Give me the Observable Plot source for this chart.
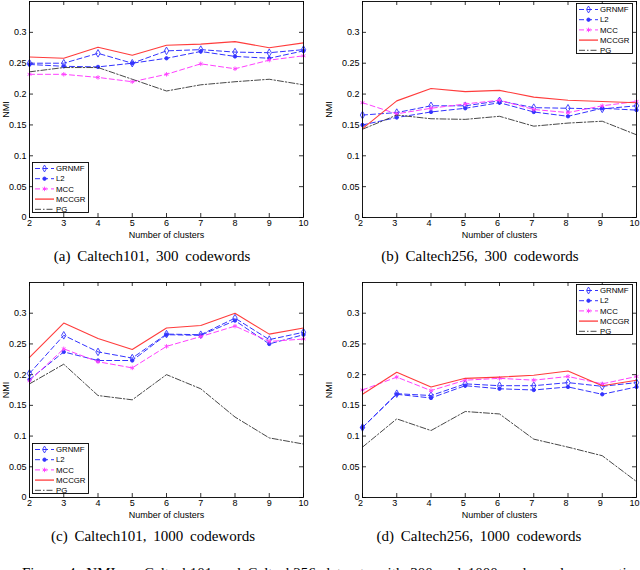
<!DOCTYPE html>
<html><head><meta charset="utf-8">
<script src="https://cdn.jsdelivr.net/npm/d3@7"></script>
<script src="https://cdn.jsdelivr.net/npm/@observablehq/plot@0.6"></script>
<style>
body{margin:0;background:#fff;}
#fig{position:relative;width:640px;height:570px;overflow:hidden;background:#fff;}
.panel{position:absolute;}
.cap{position:absolute;font-family:"Liberation Serif","Times New Roman",serif;font-size:15px;line-height:16px;word-spacing:3px;white-space:nowrap;transform:translateX(-50%);color:#000;}
.figcap{position:absolute;font-family:"Liberation Serif","Times New Roman",serif;font-size:15px;line-height:16px;word-spacing:3px;white-space:nowrap;color:#000;}
</style></head><body><div id="fig"></div>
<script>
const clusters = [2, 3, 4, 5, 6, 7, 8, 9, 10];
const methods = ["GRNMF", "L2", "MCC", "MCCGR", "PG"];
const xTicks = [2, 3, 4, 5, 6, 7, 8, 9, 10];
const yTicks = [0, 0.05, 0.1, 0.15, 0.2, 0.25, 0.3];
const yTickLabels = ["0", "0.05", "0.1", "0.15", "0.2", "0.25", "0.3"];

// (a) Caltech101, 300 codewords
const a_GRNMF = [0.250, 0.250, 0.266, 0.250, 0.270, 0.272, 0.268, 0.267, 0.272];
const a_L2    = [0.248, 0.245, 0.244, 0.250, 0.258, 0.269, 0.261, 0.258, 0.270];
const a_MCC   = [0.232, 0.232, 0.227, 0.220, 0.232, 0.249, 0.241, 0.255, 0.262];
const a_MCCGR = [0.260, 0.258, 0.276, 0.263, 0.279, 0.281, 0.285, 0.275, 0.283];
const a_PG    = [0.236, 0.243, 0.243, 0.224, 0.205, 0.215, 0.220, 0.224, 0.215];

// (b) Caltech256, 300 codewords
const b_GRNMF = [0.166, 0.170, 0.181, 0.181, 0.189, 0.178, 0.177, 0.176, 0.181];
const b_L2    = [0.150, 0.162, 0.171, 0.177, 0.186, 0.171, 0.164, 0.177, 0.174];
const b_MCC   = [0.186, 0.168, 0.177, 0.184, 0.190, 0.175, 0.170, 0.181, 0.188];
const b_MCCGR = [0.144, 0.189, 0.209, 0.204, 0.206, 0.195, 0.190, 0.188, 0.186];
const b_PG    = [0.143, 0.166, 0.160, 0.159, 0.164, 0.148, 0.153, 0.156, 0.134];

// (c) Caltech101, 1000 codewords
const c_GRNMF = [0.202, 0.264, 0.237, 0.227, 0.266, 0.265, 0.292, 0.257, 0.269];
const c_L2    = [0.192, 0.237, 0.223, 0.223, 0.265, 0.264, 0.288, 0.250, 0.265];
const c_MCC   = [0.190, 0.242, 0.221, 0.211, 0.246, 0.262, 0.279, 0.254, 0.258];
const c_MCCGR = [0.228, 0.284, 0.259, 0.241, 0.276, 0.280, 0.300, 0.266, 0.276];
const c_PG    = [0.185, 0.217, 0.166, 0.159, 0.200, 0.177, 0.131, 0.097, 0.087];

// (d) Caltech256, 1000 codewords
const d_GRNMF = [0.114, 0.169, 0.166, 0.185, 0.182, 0.182, 0.187, 0.181, 0.187];
const d_L2    = [0.114, 0.168, 0.162, 0.182, 0.177, 0.175, 0.180, 0.168, 0.180];
const d_MCC   = [0.175, 0.196, 0.174, 0.191, 0.194, 0.191, 0.197, 0.185, 0.197];
const d_MCCGR = [0.168, 0.204, 0.180, 0.194, 0.196, 0.199, 0.206, 0.182, 0.191];
const d_PG    = [0.082, 0.128, 0.109, 0.140, 0.136, 0.095, 0.082, 0.068, 0.026];

const captions = ["(a) Caltech101, 300 codewords", "(b) Caltech256, 300 codewords",
                  "(c) Caltech101, 1000 codewords", "(d) Caltech256, 1000 codewords"];
const figureCaption = "Figure 4: NMI on Caltech101 and Caltech256 datasets with 300 and 1000 codewords, respectively.";

const styles = {
  GRNMF: {stroke: "#3333ff", dash: "5,3", width: 1, symbol: "diamond", fill: "none", r: 2.3},
  L2:    {stroke: "#3333ff", dash: "5,3", width: 1, symbol: "circle", fill: "#3333ff", r: 1.7},
  MCC:   {stroke: "#ff40ff", dash: "5,3", width: 1, symbol: "asterisk", fill: "none", r: 2.1},
  MCCGR: {stroke: "#ff3c3c", dash: null, width: 1.1, symbol: null},
  PG:    {stroke: "#333333", dash: "6,2,1.5,2", width: 0.9, symbol: null}
};

const panels = [
  {series: [a_GRNMF, a_L2, a_MCC, a_MCCGR, a_PG], left: 0, top: 0, ml: 29, mr: 17, mt: 1, mb: 28, yOff: 27, xdx: 0,
   legend: {x: 32, y: 162}, cap: {x: 152, y: 248}},
  {series: [b_GRNMF, b_L2, b_MCC, b_MCCGR, b_PG], left: 320, top: 0, ml: 42, mr: 4, mt: 1, mb: 28, yOff: 37, xdx: -2,
   legend: {x: 576, y: 3}, cap: {x: 480, y: 248}},
  {series: [c_GRNMF, c_L2, c_MCC, c_MCCGR, c_PG], left: 0, top: 280, ml: 29, mr: 17, mt: 2, mb: 28, yOff: 27, xdx: 0,
   legend: {x: 32, y: 443}, cap: {x: 153, y: 528}},
  {series: [d_GRNMF, d_L2, d_MCC, d_MCCGR, d_PG], left: 320, top: 280, ml: 42, mr: 4, mt: 2, mb: 28, yOff: 37, xdx: -2,
   legend: {x: 576, y: 284}, cap: {x: 479, y: 528}}
];

const fig = document.getElementById("fig");
const FONT = "'Liberation Sans', Arial, Helvetica, sans-serif";

panels.forEach((p, pi) => {
  const W = 320, H = 245;
  const fw = W - p.ml - p.mr, fh = H - p.mt - p.mb;
  const ymax = 0.35, tl = 4;
  const tx = tl * (8 / fw), ty = tl * (ymax / fh);
  const rows = [];
  methods.forEach((m, i) => p.series[i].forEach((v, j) => rows.push({m, x: clusters[j], y: v})));
  const sel = m => rows.filter(d => d.m === m);
  const marks = [];
  marks.push(Plot.axisX(xTicks, {tickSize: 0, tickPadding: 2, dx: p.xdx, tickFormat: d => String(d),
    label: "Number of clusters", labelAnchor: "center", labelOffset: 20, labelArrow: "none"}));
  marks.push(Plot.axisY(yTicks, {tickSize: 0, tickPadding: 3, tickFormat: d => yTickLabels[yTicks.indexOf(d)],
    label: "NMI", labelAnchor: "center", labelOffset: p.yOff, labelArrow: "none"}));
  marks.push(Plot.ruleX(xTicks, {x: d => d, y1: 0, y2: ty, stroke: "#000", strokeWidth: 0.8}));
  marks.push(Plot.ruleX(xTicks, {x: d => d, y1: ymax - ty, y2: ymax, stroke: "#000", strokeWidth: 0.8}));
  marks.push(Plot.ruleY(yTicks, {y: d => d, x1: 2, x2: 2 + tx, stroke: "#000", strokeWidth: 0.8}));
  marks.push(Plot.ruleY(yTicks, {y: d => d, x1: 10 - tx, x2: 10, stroke: "#000", strokeWidth: 0.8}));
  methods.forEach(m => {
    const s = styles[m];
    marks.push(Plot.line(sel(m), {x: "x", y: "y", stroke: s.stroke, strokeWidth: s.width, strokeDasharray: s.dash}));
    if (s.symbol) marks.push(Plot.dot(sel(m), {x: "x", y: "y", symbol: s.symbol, r: s.r, stroke: s.stroke, fill: s.fill, strokeWidth: 0.9}));
  });
  marks.push(Plot.frame({stroke: "#000", strokeWidth: 0.9}));
  const plot = Plot.plot({
    width: W, height: H,
    marginLeft: p.ml, marginRight: p.mr, marginTop: p.mt, marginBottom: p.mb,
    style: {fontFamily: FONT, fontSize: "9px", background: "transparent", color: "#000", overflow: "visible"},
    x: {domain: [2, 10]},
    y: {domain: [0, ymax]},
    marks
  });
  plot.classList.add("panel");
  plot.style.left = p.left + "px";
  plot.style.top = p.top + "px";
  fig.appendChild(plot);

  // legend box
  const lg = d3.create("svg").attr("class", "panel").attr("width", 58).attr("height", 52)
    .style("left", p.legend.x + "px").style("top", p.legend.y + "px").style("overflow", "visible");
  lg.append("rect").attr("x", 0.5).attr("y", 0.5).attr("width", 56).attr("height", 50)
    .attr("fill", "#fff").attr("stroke", "#000").attr("stroke-width", 0.9);
  methods.forEach((m, i) => {
    const s = styles[m];
    const yy = 6.5 + i * 10.2;
    lg.append("line").attr("x1", 3).attr("x2", 22).attr("y1", yy).attr("y2", yy)
      .attr("stroke", s.stroke).attr("stroke-width", m === "MCCGR" ? 1.3 : s.width)
      .attr("stroke-dasharray", s.dash);
    if (s.symbol) {
      const sym = {diamond: d3.symbolDiamond, circle: d3.symbolCircle, asterisk: d3.symbolAsterisk}[s.symbol];
      lg.append("path").attr("transform", `translate(12.5,${yy})`)
        .attr("d", d3.symbol(sym, s.symbol === "circle" ? 9 : 14)())
        .attr("fill", s.fill).attr("stroke", s.stroke).attr("stroke-width", 0.9);
    }
    lg.append("text").attr("x", 24).attr("y", yy).attr("dy", "0.35em")
      .attr("font-family", FONT).attr("font-size", 7.8).attr("fill", "#000").text(m);
  });
  fig.appendChild(lg.node());

  const cap = document.createElement("div");
  cap.className = "cap";
  cap.style.left = p.cap.x + "px";
  cap.style.top = p.cap.y + "px";
  cap.textContent = captions[pi];
  fig.appendChild(cap);
});

const fc = document.createElement("div");
fc.className = "figcap";
fc.style.left = "22px";
fc.style.top = "565px";
fc.textContent = figureCaption;
fig.appendChild(fc);
</script>
</body></html>
